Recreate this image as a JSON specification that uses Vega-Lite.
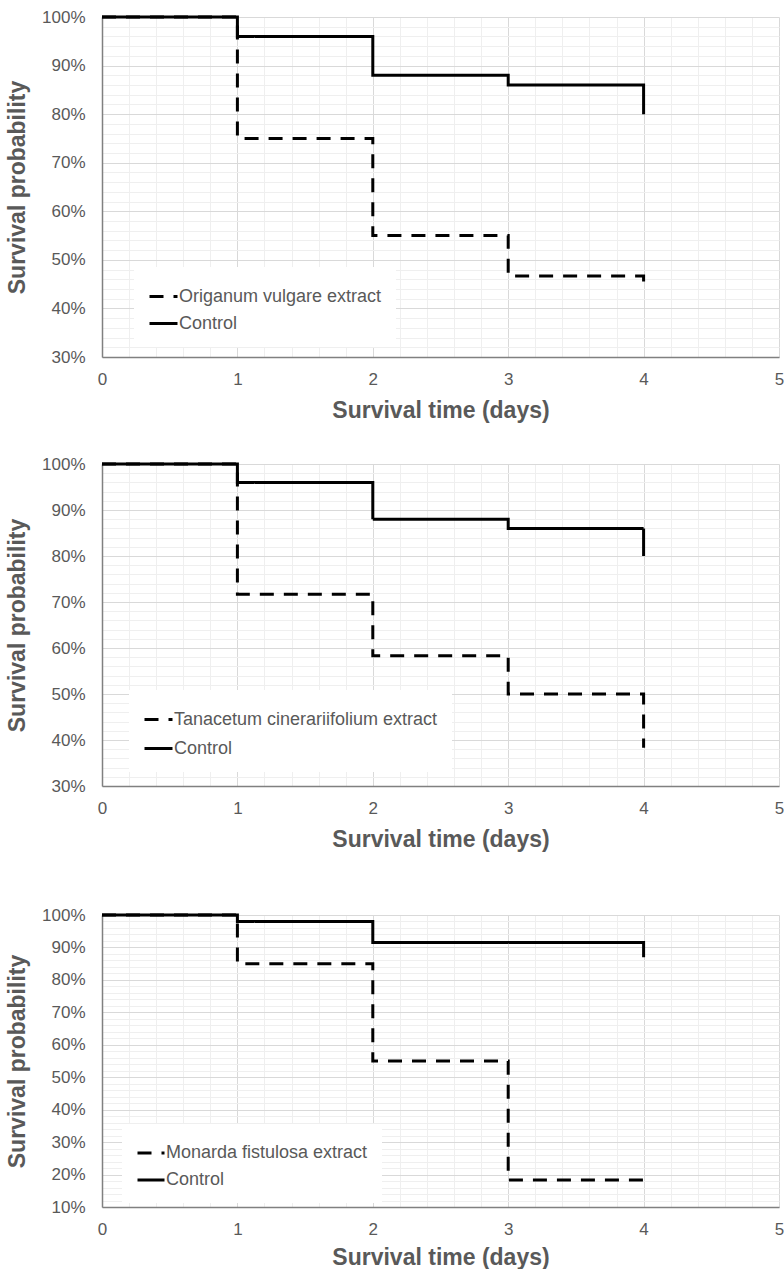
{
  "$schema": "https://vega.github.io/schema/vega-lite/v6.json",
  "background": "white",
  "padding": {"left": 6, "top": 8, "right": 0, "bottom": 0},
  "config": {
    "font": "Liberation Sans",
    "view": {"stroke": null},
    "axis": {
      "ticks": false,
      "labelFontSize": 17,
      "labelColor": "#595959",
      "titleFontSize": 23,
      "titleFontWeight": "bold",
      "titleColor": "#595959",
      "domainColor": "#808080",
      "domainWidth": 1.5,
      "labelOverlap": false,
      "labelBound": false,
      "labelFlush": false
    },
    "legend": {
      "title": null,
      "orient": "none",
      "fillColor": "white",
      "padding": 14,
      "labelFontSize": 18,
      "labelColor": "#595959",
      "labelFont": "Liberation Sans",
      "labelLimit": 500,
      "symbolType": "stroke",
      "symbolSize": 784,
      "symbolStrokeWidth": 3,
      "symbolStrokeColor": "black",
      "labelOffset": 0
    }
  },
  "resolve": {"scale": {"strokeDash": "independent"}, "legend": {"strokeDash": "independent"}},
  "vconcat": [
    {
      "spacing": 33,
      "resolve": {"scale": {"strokeDash": "independent"}, "legend": {"strokeDash": "independent"}},
      "vconcat": [
        {
          "width": 677,
          "height": 340,
          "data": {"values": [
            {"g": "Origanum vulgare extract", "t": 0, "s": 1.0},
            {"g": "Origanum vulgare extract", "t": 1, "s": 0.75},
            {"g": "Origanum vulgare extract", "t": 2, "s": 0.55},
            {"g": "Origanum vulgare extract", "t": 3, "s": 0.467},
            {"g": "Origanum vulgare extract", "t": 4, "s": 0.44},
            {"g": "Control", "t": 0, "s": 1.0},
            {"g": "Control", "t": 1, "s": 0.96},
            {"g": "Control", "t": 2, "s": 0.88},
            {"g": "Control", "t": 3, "s": 0.86},
            {"g": "Control", "t": 4, "s": 0.80}
          ]},
          "mark": {"type": "line", "interpolate": "step-after", "color": "black", "strokeWidth": 3, "strokeCap": "butt"},
          "encoding": {
            "x": {"field": "t", "type": "quantitative", "scale": {"domain": [0, 5], "nice": false},
              "axis": {"title": "Survival time (days)", "values": [0,0.2,0.4,0.6,0.8,1,1.2,1.4,1.6,1.8,2,2.2,2.4,2.6,2.8,3,3.2,3.4,3.6,3.8,4,4.2,4.4,4.6,4.8,5],
                "labelExpr": "round(datum.value*10) % 10 == 0 ? format(datum.value, 'd') : ''",
                "labelPadding": 14, "titlePadding": 12,
                "gridColor": {"condition": {"test": "round(datum.value*10) % 10 == 0", "value": "#d9d9d9"}, "value": "#efefef"}}},
            "y": {"field": "s", "type": "quantitative", "scale": {"domain": [0.3, 1], "nice": false, "zero": false},
              "axis": {"title": "Survival probability", "values": [0.3,0.32,0.34,0.36,0.38,0.4,0.42,0.44,0.46,0.48,0.5,0.52,0.54,0.56,0.58,0.6,0.62,0.64,0.66,0.68,0.7,0.72,0.74,0.76,0.78,0.8,0.82,0.84,0.86,0.88,0.9,0.92,0.94,0.96,0.98,1],
                "labelExpr": "round(datum.value*100) % 10 == 0 ? round(datum.value*100) + '%' : ''",
                "labelPadding": 17, "titlePadding": 12,
                "gridColor": {"condition": {"test": "round(datum.value*100) % 10 == 0", "value": "#d9d9d9"}, "value": "#efefef"}}},
            "strokeDash": {"field": "g", "type": "nominal",
              "scale": {"domain": ["Origanum vulgare extract", "Control"], "range": [[14, 10], [1, 0]]},
              "legend": {"legendX": 32, "legendY": 250, "rowPadding": 2}}
          }
        },
        {
          "width": 677,
          "height": 322,
          "data": {"values": [
            {"g": "Tanacetum cinerariifolium extract", "t": 0, "s": 1.0},
            {"g": "Tanacetum cinerariifolium extract", "t": 1, "s": 0.717},
            {"g": "Tanacetum cinerariifolium extract", "t": 2, "s": 0.583},
            {"g": "Tanacetum cinerariifolium extract", "t": 3, "s": 0.50},
            {"g": "Tanacetum cinerariifolium extract", "t": 4, "s": 0.383},
            {"g": "Control", "t": 0, "s": 1.0},
            {"g": "Control", "t": 1, "s": 0.96},
            {"g": "Control", "t": 2, "s": 0.88},
            {"g": "Control", "t": 3, "s": 0.86},
            {"g": "Control", "t": 4, "s": 0.80}
          ]},
          "mark": {"type": "line", "interpolate": "step-after", "color": "black", "strokeWidth": 3, "strokeCap": "butt"},
          "encoding": {
            "x": {"field": "t", "type": "quantitative", "scale": {"domain": [0, 5], "nice": false},
              "axis": {"title": "Survival time (days)", "values": [0,0.2,0.4,0.6,0.8,1,1.2,1.4,1.6,1.8,2,2.2,2.4,2.6,2.8,3,3.2,3.4,3.6,3.8,4,4.2,4.4,4.6,4.8,5],
                "labelExpr": "round(datum.value*10) % 10 == 0 ? format(datum.value, 'd') : ''",
                "labelPadding": 14, "titlePadding": 12,
                "gridColor": {"condition": {"test": "round(datum.value*10) % 10 == 0", "value": "#d9d9d9"}, "value": "#efefef"}}},
            "y": {"field": "s", "type": "quantitative", "scale": {"domain": [0.3, 1], "nice": false, "zero": false},
              "axis": {"title": "Survival probability", "values": [0.3,0.32,0.34,0.36,0.38,0.4,0.42,0.44,0.46,0.48,0.5,0.52,0.54,0.56,0.58,0.6,0.62,0.64,0.66,0.68,0.7,0.72,0.74,0.76,0.78,0.8,0.82,0.84,0.86,0.88,0.9,0.92,0.94,0.96,0.98,1],
                "labelExpr": "round(datum.value*100) % 10 == 0 ? round(datum.value*100) + '%' : ''",
                "labelPadding": 17, "titlePadding": 12,
                "gridColor": {"condition": {"test": "round(datum.value*100) % 10 == 0", "value": "#d9d9d9"}, "value": "#efefef"}}},
            "strokeDash": {"field": "g", "type": "nominal",
              "scale": {"domain": ["Tanacetum cinerariifolium extract", "Control"], "range": [[14, 10], [1, 0]]},
              "legend": {"legendX": 27, "legendY": 226, "rowPadding": 4}}
          }
        }
      ]
    },
    {
      "width": 677,
      "height": 292,
      "data": {"values": [
        {"g": "Monarda fistulosa extract", "t": 0, "s": 1.0},
        {"g": "Monarda fistulosa extract", "t": 1, "s": 0.85},
        {"g": "Monarda fistulosa extract", "t": 2, "s": 0.55},
        {"g": "Monarda fistulosa extract", "t": 3, "s": 0.183},
        {"g": "Monarda fistulosa extract", "t": 4, "s": 0.16},
        {"g": "Control", "t": 0, "s": 1.0},
        {"g": "Control", "t": 1, "s": 0.98},
        {"g": "Control", "t": 2, "s": 0.915},
        {"g": "Control", "t": 3, "s": 0.915},
        {"g": "Control", "t": 4, "s": 0.87}
      ]},
      "mark": {"type": "line", "interpolate": "step-after", "color": "black", "strokeWidth": 3, "strokeCap": "butt"},
      "encoding": {
        "x": {"field": "t", "type": "quantitative", "scale": {"domain": [0, 5], "nice": false},
          "axis": {"title": "Survival time (days)", "values": [0,0.2,0.4,0.6,0.8,1,1.2,1.4,1.6,1.8,2,2.2,2.4,2.6,2.8,3,3.2,3.4,3.6,3.8,4,4.2,4.4,4.6,4.8,5],
            "labelExpr": "round(datum.value*10) % 10 == 0 ? format(datum.value, 'd') : ''",
            "labelPadding": 14, "titlePadding": 9,
            "gridColor": {"condition": {"test": "round(datum.value*10) % 10 == 0", "value": "#d9d9d9"}, "value": "#efefef"}}},
        "y": {"field": "s", "type": "quantitative", "scale": {"domain": [0.1, 1], "nice": false, "zero": false},
          "axis": {"title": "Survival probability", "values": [0.1,0.12,0.14,0.16,0.18,0.2,0.22,0.24,0.26,0.28,0.3,0.32,0.34,0.36,0.38,0.4,0.42,0.44,0.46,0.48,0.5,0.52,0.54,0.56,0.58,0.6,0.62,0.64,0.66,0.68,0.7,0.72,0.74,0.76,0.78,0.8,0.82,0.84,0.86,0.88,0.9,0.92,0.94,0.96,0.98,1],
            "labelExpr": "round(datum.value*100) % 10 == 0 ? round(datum.value*100) + '%' : ''",
            "labelPadding": 17, "titlePadding": 12,
            "gridColor": {"condition": {"test": "round(datum.value*100) % 10 == 0", "value": "#d9d9d9"}, "value": "#efefef"}}},
        "strokeDash": {"field": "g", "type": "nominal",
          "scale": {"domain": ["Monarda fistulosa extract", "Control"], "range": [[14, 10], [1, 0]]},
          "legend": {"legendX": 20, "legendY": 209, "rowPadding": 3, "symbolSize": 729}}
      }
    }
  ],
  "spacing": 55
}
